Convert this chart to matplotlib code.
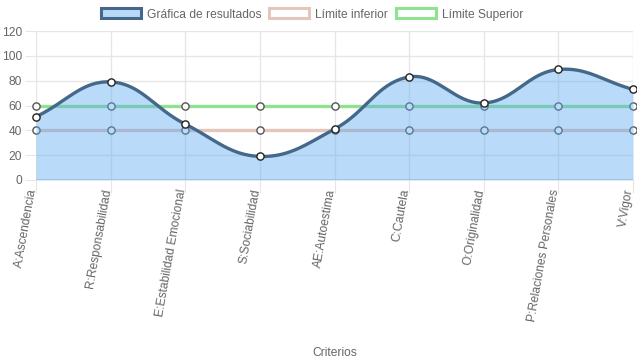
import numpy as np
import matplotlib
matplotlib.use("Agg")
import matplotlib.pyplot as plt
import matplotlib.transforms as mtransforms
from matplotlib.patches import Patch

plt.rcParams['font.family'] = ['Liberation Sans', 'DejaVu Sans']

categories = ["A:Ascendencia", "R:Responsabilidad", "E:Estabilidad Emocional",
              "S:Sociabilidad", "AE:Autoestima", "C:Cautela", "O:Originalidad",
              "P:Relaciones Personales", "V:Vigor"]
resultados = [51, 79, 45, 19, 41, 83, 62, 89, 73]
limite_inferior = [40, 40, 40, 40, 40, 40, 40, 40, 40]
limite_superior = [60, 60, 60, 60, 60, 60, 60, 60, 60]
y_ticks = [0, 20, 40, 60, 80, 100, 120]

W, H = 637, 359
fig = plt.figure(figsize=(W / 100, H / 100), dpi=100)
left, right, top, bottom = 36, 633, 31, 180
ax = fig.add_axes([left / W, (H - bottom) / H, (right - left) / W, (bottom - top) / H])

x = np.arange(len(categories))
sx = (right - left) / (len(categories) - 1)
sy = (bottom - top) / 120.0


def chartjs_spline(xs, ys, t=0.4, n=60):
    px = np.asarray(xs, float) * sx
    py = np.asarray(ys, float) * sy
    m = len(px)
    cps_prev, cps_next = [], []
    for i in range(m):
        p0 = np.array([px[max(i - 1, 0)], py[max(i - 1, 0)]])
        p1 = np.array([px[i], py[i]])
        p2 = np.array([px[min(i + 1, m - 1)], py[min(i + 1, m - 1)]])
        d01 = np.hypot(*(p1 - p0))
        d12 = np.hypot(*(p2 - p1))
        tot = d01 + d12
        s01 = d01 / tot if tot else 0
        s12 = d12 / tot if tot else 0
        cps_prev.append(p1 - t * s01 * (p2 - p0))
        cps_next.append(p1 + t * s12 * (p2 - p0))
    outx, outy = [], []
    u = np.linspace(0, 1, n)[:, None]
    for i in range(m - 1):
        P0 = np.array([px[i], py[i]])
        P3 = np.array([px[i + 1], py[i + 1]])
        P1 = cps_next[i]
        P2 = cps_prev[i + 1]
        B = ((1 - u) ** 3) * P0 + 3 * ((1 - u) ** 2) * u * P1 + 3 * (1 - u) * u ** 2 * P2 + u ** 3 * P3
        outx.append(B[:, 0]); outy.append(B[:, 1])
    return np.concatenate(outx) / sx, np.clip(np.concatenate(outy) / sy, 0, 120)


grid_c = '#e6e6e6'
ax.set_xlim(0, len(categories) - 1)
ax.set_ylim(0, 120)
ax.set_yticks(y_ticks)
ax.set_xticks(x)
ax.set_xticklabels([])
ax.grid(True, color=grid_c, linewidth=1, zorder=0)
for s in ax.spines.values():
    s.set_visible(False)
ax.axhline(0, color='#d2d2d2', linewidth=2, zorder=1)
ax.tick_params(axis='y', length=8, color=grid_c, labelcolor='#666666', labelsize=8.64, pad=2)
ax.tick_params(axis='x', length=9, color=grid_c)
ax.set_axisbelow(True)

# rotated category labels hanging from the tick marks
lbl_trans = ax.get_xaxis_transform() + mtransforms.ScaledTranslation(-3 / 100, -9 / 100, fig.dpi_scale_trans)
for i, cat in enumerate(categories):
    ax.text(x[i], 0, cat, transform=lbl_trans, rotation=80, ha='right', va='center',
            rotation_mode='anchor', fontsize=8.64, color='#666666', clip_on=False)

# limit lines
ax.plot(x, limite_inferior, color='#e5c6bb', linewidth=2.4, zorder=2)
ax.plot(x, limite_superior, color='#8fe38f', linewidth=2.4, zorder=2)
ax.plot(x, limite_inferior, linestyle='none', marker='o', markersize=5.2,
        markerfacecolor='white', markeredgecolor='#555555', markeredgewidth=1.0, zorder=3,
        clip_on=False)
ax.plot(x, limite_superior, linestyle='none', marker='o', markersize=5.2,
        markerfacecolor='white', markeredgecolor='#555555', markeredgewidth=1.0, zorder=3,
        clip_on=False)

cx, cy = chartjs_spline(x, resultados)
ax.fill_between(cx, 0, cy, color='#5aa9f0', alpha=0.42, linewidth=0, zorder=4)
ax.plot(cx, cy, color='#45688a', linewidth=2.4, zorder=5, solid_capstyle='round')
ax.plot(x, resultados, linestyle='none', marker='o', markersize=5.2,
        markerfacecolor='white', markeredgecolor='#222222', markeredgewidth=1.0, zorder=6,
        clip_on=False)

ax.set_xlabel('Criterios', color='#666666', fontsize=8.64)
ax.xaxis.set_label_coords(0.5, -(347 - bottom) / (bottom - top), transform=ax.transAxes)

handles = [
    Patch(facecolor='#b8d9f7', edgecolor='#45688a', linewidth=2.2, label='Gráfica de resultados'),
    Patch(facecolor='white', edgecolor='#e5c6bb', linewidth=2.2, label='Límite inferior'),
    Patch(facecolor='white', edgecolor='#8fe38f', linewidth=2.2, label='Límite Superior'),
]
fig.legend(handles=handles, loc='upper center', bbox_to_anchor=(0.49, 1.0), ncol=3,
           frameon=False, fontsize=8.64, handlelength=3.3, handleheight=0.9,
           handletextpad=0.5, columnspacing=0.7, labelcolor='#666666',
           borderaxespad=0.3)

fig.savefig('out.png', dpi=100)
